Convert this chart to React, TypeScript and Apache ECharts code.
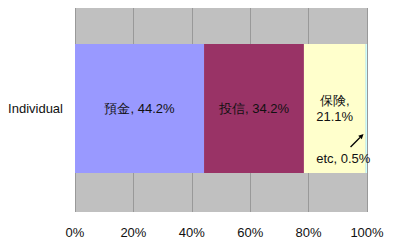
import React, { useEffect, useRef } from "react";
import * as echarts from "echarts";

const categories = ["Individual"];
const seriesNames = ["預金", "投信", "保険", "etc"];
const seriesValues = [44.2, 34.2, 21.1, 0.5];
const seriesColors = ["#9999FF", "#993366", "#FFFFCC", "#CCFFFF"];
const tickValues = [0, 20, 40, 60, 80, 100];

const FONT = "'Liberation Sans', Arial, sans-serif";

export default function App() {
  const ref = useRef<HTMLDivElement>(null);

  useEffect(() => {
    if (!ref.current) return;
    const chart = echarts.init(ref.current, null, { renderer: "svg" });

    const labelFor = (i: number) => {
      const name = seriesNames[i];
      const v = seriesValues[i].toFixed(1) + "%";
      if (i === 2) return `${name},\n${v}`;
      return `${name}, ${v}`;
    };

    const series = seriesNames.map((name, i) => ({
      name,
      type: "bar",
      stack: "total",
      barWidth: 129,
      data: [seriesValues[i]],
      itemStyle: { color: seriesColors[i] },
      label: {
        show: true,
        position: "inside",
        formatter: () => labelFor(i),
        color: "#111",
        fontFamily: FONT,
        fontSize: 13,
        lineHeight: 16,
        ...(i === 3 ? { offset: [-23, 50] } : {}),
      },
    }));

    chart.setOption({
      animation: false,
      grid: {
        left: 75,
        right: 33,
        top: 5,
        bottom: 36,
        show: true,
        backgroundColor: "#C0C0C0",
        borderWidth: 0,
      },
      xAxis: {
        type: "value",
        min: 0,
        max: 100,
        interval: 20,
        axisLine: { show: false },
        axisTick: { show: false },
        splitLine: { show: true, lineStyle: { color: "#999999", width: 1 } },
        axisLabel: {
          margin: 14,
          color: "#111",
          fontFamily: FONT,
          fontSize: 13,
          formatter: (v: number) => (tickValues.includes(v) ? `${v}%` : ""),
        },
      },
      yAxis: {
        type: "category",
        data: categories,
        axisLine: { show: false },
        axisTick: { show: false },
        axisLabel: {
          margin: 12,
          color: "#111",
          fontFamily: FONT,
          fontSize: 13,
        },
      },
      series,
    });

    // Arrow pointing from the "etc" label to its thin segment
    const endX = chart.convertToPixel({ xAxisIndex: 0 }, 99.5) as number;
    const cy = chart.convertToPixel({ yAxisIndex: 0 }, categories[0]) as number;
    const tip = [endX - 2, cy + 25.5];
    const tail = [tip[0] - 13, tip[1] + 13];
    const ang = Math.atan2(tip[1] - tail[1], tip[0] - tail[0]);
    const hl = 5;
    const hw = 2.5;
    const bx = tip[0] - hl * Math.cos(ang);
    const by = tip[1] - hl * Math.sin(ang);
    const px = -Math.sin(ang) * hw;
    const py = Math.cos(ang) * hw;
    chart.setOption({
      graphic: [
        {
          type: "line",
          shape: { x1: tail[0], y1: tail[1], x2: bx, y2: by },
          style: { stroke: "#000", lineWidth: 1.3 },
          z: 10,
        },
        {
          type: "polygon",
          shape: {
            points: [
              [tip[0], tip[1]],
              [bx + px, by + py],
              [bx - px, by - py],
            ],
          },
          style: { fill: "#000" },
          z: 10,
        },
      ],
    });

    return () => chart.dispose();
  }, []);

  return <div ref={ref} style={{ width: 400, height: 248, margin: -8 }} />;
}
